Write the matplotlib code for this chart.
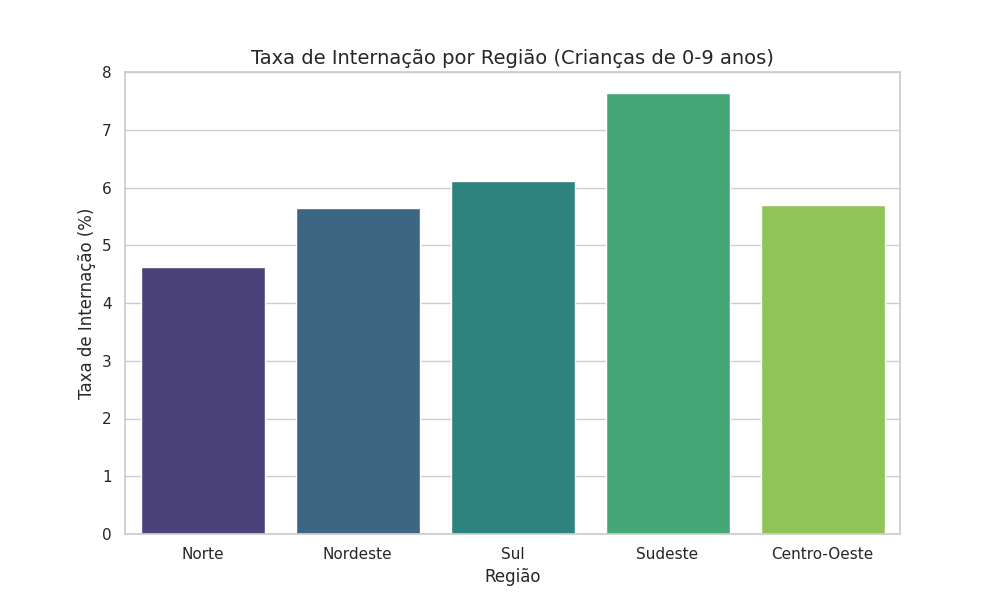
import matplotlib
matplotlib.use("Agg")
import matplotlib.pyplot as plt
import seaborn as sns

regioes = ["Norte", "Nordeste", "Sul", "Sudeste", "Centro-Oeste"]
taxas = [4.62, 5.64, 6.12, 7.63, 5.69]

sns.set_theme(style="whitegrid")
fig, ax = plt.subplots(figsize=(10, 6), dpi=100)
sns.barplot(x=regioes, y=taxas, hue=regioes, palette="viridis", legend=False, ax=ax)
ax.set_ylim(0, 8)
ax.set_title("Taxa de Internação por Região (Crianças de 0-9 anos)", fontsize=14)
ax.set_xlabel("Região", fontsize=12)
ax.set_ylabel("Taxa de Internação (%)", fontsize=12)
fig.savefig("out.png")
